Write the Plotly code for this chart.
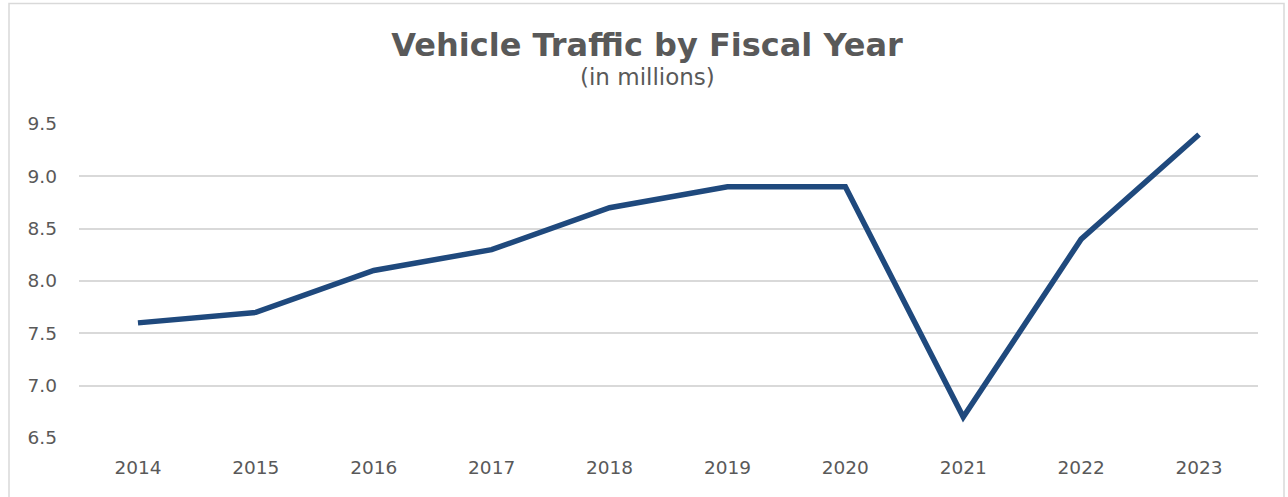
import plotly.graph_objects as go

years = ["2014", "2015", "2016", "2017", "2018", "2019", "2020", "2021", "2022", "2023"]
traffic = [7.6, 7.7, 8.1, 8.3, 8.7, 8.9, 8.9, 6.7, 8.4, 9.4]
y_ticks = [6.5, 7.0, 7.5, 8.0, 8.5, 9.0, 9.5]
y_tick_labels = ["6.5", "7.0", "7.5", "8.0", "8.5", "9.0", "9.5"]

W, H = 1288, 497
L, R, T, B = 79, 30, 124, 59
pw, ph = W - L - R, H - T - B

def px_x(p):
    return (p - L) / pw

def px_y(p):
    return 1 - (p - T) / ph

FONT = "DejaVu Sans, Verdana, sans-serif"

fig = go.Figure()
fig.add_trace(go.Scatter(
    x=years, y=traffic, mode="lines",
    line=dict(color="#1F497D", width=5.5),
    hoverinfo="x+y",
))

fig.update_layout(
    width=W, height=H,
    margin=dict(l=L, r=R, t=T, b=B),
    paper_bgcolor="white", plot_bgcolor="white",
    showlegend=False,
    title=dict(
        text="<b>Vehicle Traffic by Fiscal Year</b>",
        x=px_x(647), xref="paper", xanchor="center", y=1 - 45 / H, yanchor="middle",
        font=dict(family=FONT, size=32, color="#595959"),
    ),
    annotations=[dict(
        text="(in millions)", xref="paper", yref="paper",
        x=px_x(647.5), y=px_y(77), xanchor="center", yanchor="middle",
        showarrow=False,
        font=dict(family=FONT, size=23, color="#595959"),
    )],
    shapes=[dict(
        type="rect", xref="paper", yref="paper",
        x0=px_x(9), x1=px_x(1284), y0=px_y(505), y1=px_y(3.5),
        line=dict(color="#D9D9D9", width=1.5), fillcolor="rgba(0,0,0,0)", layer="below",
    )],
    xaxis=dict(
        type="category", range=[-0.5, 9.5],
        showgrid=False, showline=False, zeroline=False, ticks="",
        ticklabelstandoff=16,
        tickfont=dict(family=FONT, size=18.5, color="#595959"),
    ),
    yaxis=dict(
        range=[6.5, 9.5], tickvals=y_ticks, ticktext=y_tick_labels,
        showgrid=True, gridcolor="#D9D9D9", gridwidth=1.5,
        zeroline=False, showline=False, ticks="",
        ticklabelstandoff=21,
        tickfont=dict(family=FONT, size=18.5, color="#595959"),
    ),
)

fig.write_html("out.html", config={"displayModeBar": False},
               post_script="document.body.style.margin='0';")
